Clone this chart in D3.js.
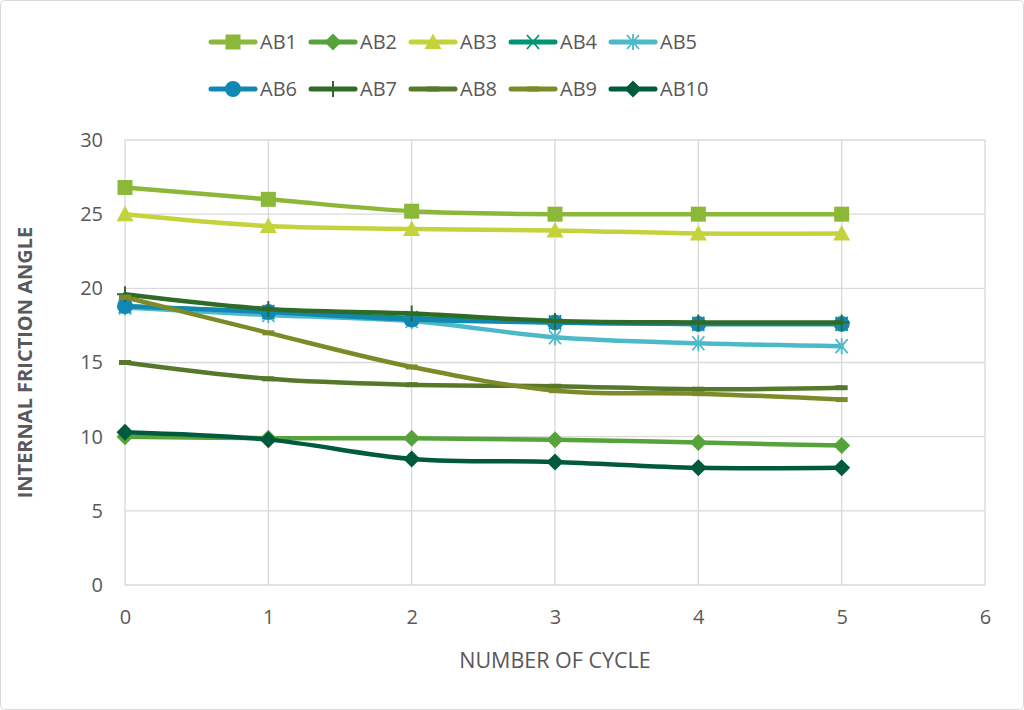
<!DOCTYPE html>
<html>
<head>
<meta charset="utf-8">
<script src="https://cdn.jsdelivr.net/npm/d3@7"></script>
<style>
  body { margin: 0; background: #fff; }
  text { font-family: "Open Sans", "Noto Sans", sans-serif; fill: #595959; }
</style>
</head>
<body>
<svg id="canvas"></svg>
<script>
// data
let cycles = [0, 1, 2, 3, 4, 5]
let seriesNames = ['AB1', 'AB2', 'AB3', 'AB4', 'AB5', 'AB6', 'AB7', 'AB8', 'AB9', 'AB10']
let ab1 = [26.8, 26.0, 25.2, 25.0, 25.0, 25.0]
let ab2 = [10.0, 9.9, 9.9, 9.8, 9.6, 9.4]
let ab3 = [25.0, 24.2, 24.0, 23.9, 23.7, 23.7]
let ab4 = [18.8, 18.4, 18.0, 17.7, 17.6, 17.6]
let ab5 = [18.7, 18.2, 17.8, 16.7, 16.3, 16.1]
let ab6 = [18.8, 18.4, 17.9, 17.7, 17.6, 17.6]
let ab7 = [19.6, 18.6, 18.3, 17.8, 17.7, 17.7]
let ab8 = [15.0, 13.9, 13.5, 13.4, 13.2, 13.3]
let ab9 = [19.4, 17.0, 14.7, 13.1, 12.9, 12.5]
let ab10 = [10.3, 9.8, 8.5, 8.3, 7.9, 7.9]
let xTicks = [0, 1, 2, 3, 4, 5, 6]
let yTicks = [0, 5, 10, 15, 20, 25, 30]

let colors = ['#8cb83a', '#56a23b', '#c4d33b', '#009473', '#4cb9c9', '#1188b3', '#2f6b26', '#55782a', '#7c8a27', '#005a3e']
let markers = ['square', 'diamond', 'triangle', 'x', 'star', 'circle', 'plus', 'dash', 'dash', 'diamond']
let allValues = [ab1, ab2, ab3, ab4, ab5, ab6, ab7, ab8, ab9, ab10]

let width = 1024
let height = 710
let plotLeft = 125, plotRight = 985, plotTop = 140, plotBottom = 585

let canvas = d3.select('#canvas')
canvas.attr('width', width).attr('height', height)

canvas.append('rect')
      .attr('x', 0.5).attr('y', 0.5)
      .attr('width', width - 1).attr('height', height - 1)
      .attr('rx', 4)
      .attr('fill', '#fff').attr('stroke', '#d9d9d9')

let xScale = d3.scaleLinear().domain([0, 6]).range([plotLeft, plotRight])
let yScale = d3.scaleLinear().domain([0, 30]).range([plotBottom, plotTop])

// gridlines
canvas.append('g').selectAll('line')
      .data(yTicks).enter().append('line')
      .attr('x1', plotLeft).attr('x2', plotRight)
      .attr('y1', d => yScale(d)).attr('y2', d => yScale(d))
      .attr('stroke', '#d9d9d9').attr('stroke-width', 1.3)

canvas.append('g').selectAll('line')
      .data(xTicks).enter().append('line')
      .attr('x1', d => xScale(d)).attr('x2', d => xScale(d))
      .attr('y1', plotTop).attr('y2', plotBottom)
      .attr('stroke', '#d9d9d9').attr('stroke-width', 1.3)

// axes (labels only)
let xAxis = d3.axisBottom(xScale).tickValues(xTicks).tickFormat(d3.format('d')).tickSize(0).tickPadding(25)
let yAxis = d3.axisLeft(yScale).tickValues(yTicks).tickFormat(d3.format('d')).tickSize(0).tickPadding(22)

let gx = canvas.append('g').attr('transform', 'translate(0,' + plotBottom + ')').call(xAxis)
let gy = canvas.append('g').attr('transform', 'translate(' + plotLeft + ',0)').call(yAxis)
gx.select('.domain').remove()
gy.select('.domain').remove()
canvas.selectAll('.tick text').style('font-size', '20px').attr('fill', '#595959')

canvas.append('text')
      .attr('x', xScale(3)).attr('y', 668)
      .attr('text-anchor', 'middle')
      .style('font-size', '21.5px')
      .text('NUMBER OF CYCLE')

canvas.append('text')
      .attr('transform', 'translate(32,' + (plotTop + plotBottom) / 2 + ') rotate(-90)')
      .attr('text-anchor', 'middle')
      .style('font-size', '20px').style('font-weight', 'bold')
      .text('INTERNAL FRICTION ANGLE')

// draws one marker centred on (0,0)
let drawMarker = (g, type, color) => {
    if (type === 'square') {
        g.append('rect').attr('x', -7.5).attr('y', -7.5).attr('width', 15).attr('height', 15).attr('fill', color)
    } else if (type === 'diamond') {
        g.append('path').attr('d', 'M0,-8.5L8.5,0L0,8.5L-8.5,0Z').attr('fill', color)
    } else if (type === 'triangle') {
        g.append('path').attr('d', 'M0,-8.5L8.5,7L-8.5,7Z').attr('fill', color)
    } else if (type === 'circle') {
        g.append('circle').attr('r', 8).attr('fill', color)
    } else if (type === 'x') {
        g.append('path').attr('d', 'M-6,-7L6,7M6,-7L-6,7').attr('stroke', color).attr('stroke-width', 1.8)
    } else if (type === 'star') {
        g.append('path').attr('d', 'M-6,-7L6,7M6,-7L-6,7M0,-8L0,8').attr('stroke', color).attr('stroke-width', 1.8)
    } else if (type === 'plus') {
        g.append('path').attr('d', 'M0,-8L0,8M-8,0L8,0').attr('stroke', color).attr('stroke-width', 2)
    } else if (type === 'dash') {
        g.append('path').attr('d', 'M-6,0L6,0').attr('stroke', color).attr('stroke-width', 5)
    }
}

let line = d3.line()
             .x((d, i) => xScale(cycles[i]))
             .y(d => yScale(d))
             .curve(d3.curveCatmullRom.alpha(0.5))

allValues.forEach((values, s) => {
    let g = canvas.append('g')
    g.append('path')
     .attr('d', line(values))
     .attr('fill', 'none')
     .attr('stroke', colors[s])
     .attr('stroke-width', 4.5)
     .attr('stroke-linecap', 'round')
    values.forEach((v, i) => {
        let m = g.append('g').attr('transform', 'translate(' + xScale(cycles[i]) + ',' + yScale(v) + ')')
        drawMarker(m, markers[s], colors[s])
    })
})

// legend
let legend = canvas.append('g')
seriesNames.forEach((name, s) => {
    let col = s % 5, row = Math.floor(s / 5)
    let lx = 211 + col * 100, ly = 42 + row * 47
    let g = legend.append('g').attr('transform', 'translate(' + lx + ',' + ly + ')')
    g.append('line').attr('x1', 0).attr('x2', 44).attr('y1', 0).attr('y2', 0)
     .attr('stroke', colors[s]).attr('stroke-width', 5).attr('stroke-linecap', 'round')
    let m = g.append('g').attr('transform', 'translate(22,0)')
    drawMarker(m, markers[s], colors[s])
    g.append('text').attr('x', 49).attr('y', 7).style('font-size', '20px').text(name)
})
</script>
</body>
</html>
